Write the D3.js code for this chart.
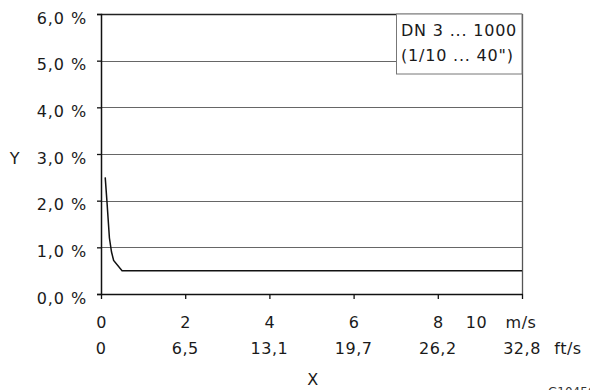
<!DOCTYPE html>
<html>
<head>
<meta charset="utf-8">
<script src="https://cdn.jsdelivr.net/npm/d3@7"></script>
<style>
  body { margin: 0; background: #fff; }
  text { font-family: "DejaVu Sans", Verdana, sans-serif; fill: #1a1a1a; letter-spacing: 0.5px; }
</style>
</head>
<body>
<div id="chart"></div>
<script>
// Velocity in m/s and measuring error in %
const velocity = [0.1, 0.14, 0.2, 0.25, 0.3, 0.5, 10];
const errorPct = [2.5, 2.0, 1.2, 0.9, 0.72, 0.5, 0.5];

const yTicks = [0, 1, 2, 3, 4, 5, 6];
const yTickLabels = ["0,0 %", "1,0 %", "2,0 %", "3,0 %", "4,0 %", "5,0 %", "6,0 %"];
const xTicks = [0, 2, 4, 6, 8, 10];
const msLabels = ["0", "2", "4", "6", "8", "10"];
const ftLabels = ["0", "6,5", "13,1", "19,7", "26,2", "32,8"];
const legendLines = ["DN 3 ... 1000", "(1/10 ... 40\")"];

const W = 590, H = 390;
const pLeft = 101, pRight = 522, pTop = 14, pBottom = 294;

const svg = d3.select("#chart").append("svg")
    .attr("width", W)
    .attr("height", H);

const x = d3.scaleLinear().domain([0, 10]).range([pLeft, pRight]);
const y = d3.scaleLinear().domain([0, 6]).range([pBottom, pTop]);

// gridlines
svg.append("g")
    .selectAll("line")
    .data(yTicks.filter(d => d > 0))
    .enter()
    .append("line")
    .attr("x1", pLeft)
    .attr("x2", pRight)
    .attr("y1", d => Math.round(y(d)) + 0.5)
    .attr("y2", d => Math.round(y(d)) + 0.5)
    .attr("stroke", d => d === 6 ? "#222" : "#666")
    .attr("stroke-width", d => d === 6 ? 1.5 : 1);

// right border
svg.append("line")
    .attr("x1", pRight + 0.5).attr("x2", pRight + 0.5)
    .attr("y1", pTop).attr("y2", pBottom)
    .attr("stroke", "#555")
    .attr("stroke-width", 1.3);

// legend box
const lg = svg.append("g");
lg.append("rect")
    .attr("x", 396.5)
    .attr("y", pTop)
    .attr("width", pRight - 396.5)
    .attr("height", 60)
    .attr("fill", "#fff")
    .attr("stroke", "#777")
    .attr("stroke-width", 1);
lg.selectAll("text")
    .data(legendLines)
    .enter()
    .append("text")
    .attr("x", 401)
    .attr("y", (d, i) => 36 + i * 25)
    .style("font-size", "16px")
    .style("letter-spacing", "0.8px")
    .text(d => d);

// curve
const line = d3.line()
    .x(d => x(d[0]))
    .y(d => y(d[1]));
svg.append("path")
    .datum(velocity.map((v, i) => [v, errorPct[i]]))
    .attr("d", line)
    .attr("fill", "none")
    .attr("stroke", "#111")
    .attr("stroke-width", 1.5);

// Y axis
const yAxis = svg.append("g")
    .attr("transform", `translate(${pLeft},0)`)
    .call(d3.axisLeft(y).tickValues(yTicks).tickSize(4).tickPadding(10)
        .tickFormat((d, i) => yTickLabels[i]));
yAxis.select(".domain").attr("stroke", "#111").attr("stroke-width", 1.5);
yAxis.selectAll(".tick line").attr("stroke", "#111").attr("stroke-width", 1.3);
yAxis.selectAll(".tick text")
    .style("font-size", "16px")
    .style("letter-spacing", "0.9px")
    .attr("dy", "0.57em")
    .attr("fill", null);
yAxis.attr("font-family", null).attr("font-size", null);

// X axis (m/s)
const xAxis = svg.append("g")
    .attr("transform", `translate(0,${pBottom})`)
    .call(d3.axisBottom(x).tickValues(xTicks).tickSize(5).tickSizeOuter(0).tickPadding(10)
        .tickFormat((d, i) => msLabels[i]));
xAxis.select(".domain").attr("stroke", "#111").attr("stroke-width", 1.5);
xAxis.selectAll(".tick line").attr("stroke", "#111").attr("stroke-width", 1.3);
xAxis.selectAll(".tick text")
    .style("font-size", "16px")
    .attr("fill", null)
    .attr("y", 33.5)
    .attr("dy", null)
    .attr("dx", d => d === 10 ? -46 : 0);
xAxis.attr("font-family", null).attr("font-size", null);

// second row (ft/s)
svg.append("g")
    .selectAll("text")
    .data(xTicks)
    .enter()
    .append("text")
    .attr("x", d => x(d))
    .attr("y", 354)
    .attr("text-anchor", "middle")
    .style("font-size", "16px")
    .text((d, i) => ftLabels[i]);

// units
svg.append("text")
    .attr("x", x(10) - 1)
    .attr("y", 327.5)
    .attr("text-anchor", "middle")
    .style("font-size", "16px")
    .text("m/s");
svg.append("text")
    .attr("x", x(10) + 46)
    .attr("y", 354)
    .attr("text-anchor", "middle")
    .style("font-size", "16px")
    .text("ft/s");

// axis titles
svg.append("text")
    .attr("x", 15)
    .attr("y", y(3) + 10)
    .attr("text-anchor", "middle")
    .style("font-size", "16px")
    .text("Y");
svg.append("text")
    .attr("x", 313)
    .attr("y", 385)
    .attr("text-anchor", "middle")
    .style("font-size", "16px")
    .text("X");

// figure code, cut off at the bottom edge as in the source
svg.append("text")
    .attr("x", 548)
    .attr("y", 396)
    .style("font-size", "12px")
    .style("fill", "#333")
    .style("letter-spacing", "0px")
    .text("G10456");
</script>
</body>
</html>
